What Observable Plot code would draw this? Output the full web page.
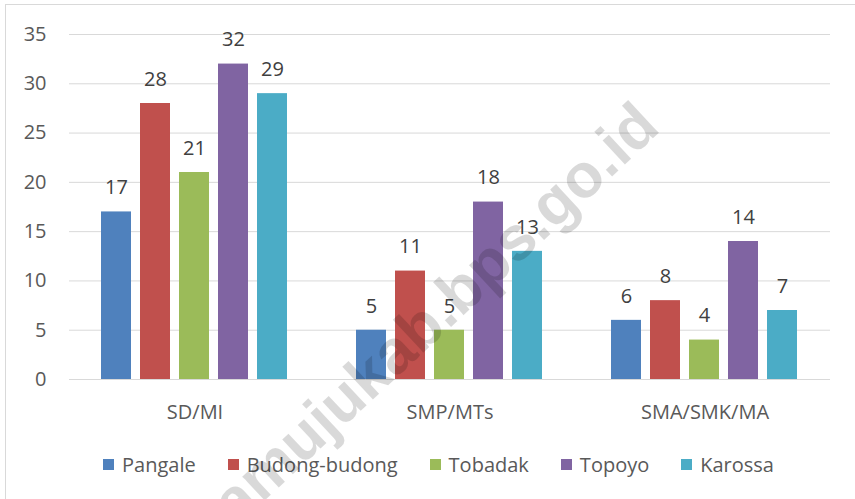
<!DOCTYPE html>
<html>
<head>
<meta charset="utf-8">
<script src="https://cdn.jsdelivr.net/npm/d3@7"></script>
<script src="https://cdn.jsdelivr.net/npm/@observablehq/plot@0.6"></script>
<style>
  html, body { margin: 0; padding: 0; background: #fff; width: 855px; height: 499px; overflow: hidden; }
  #wrap { position: relative; width: 855px; height: 499px; }
  #border { position: absolute; left: 5px; top: 4px; width: 900px; height: 900px; border-top: 1px solid #d9d9d9; border-left: 1px solid #d9d9d9; }
  .layer { position: absolute; left: 0; top: 0; }
  #legend { position: absolute; left: 103px; top: 450px; height: 28px; display: flex; align-items: center;
            font-family: "Open Sans", sans-serif; font-size: 20px; color: #595959; white-space: nowrap; }
  .item { display: flex; align-items: center; margin-right: 32px; }
  .sw { width: 11px; height: 11px; margin-right: 8px; }
  #wm { position: absolute; left: 0; top: 0; pointer-events: none; }
</style>
</head>
<body>
<div id="wrap">
  <div id="border"></div>
  <div id="grid" class="layer"></div>
  <div id="chart" class="layer"></div>
  <div id="legend"></div>
  <svg id="wm" width="855" height="499">
    <text x="662" y="130" text-anchor="end" transform="rotate(-43 662 130)" font-family="Liberation Sans" font-weight="bold" font-size="62" fill="#000" fill-opacity="0.15">mamujukab.bps.go.id</text>
  </svg>
</div>
<script>
const categories = ["SD/MI", "SMP/MTs", "SMA/SMK/MA"];
const series = ["Pangale", "Budong-budong", "Tobadak", "Topoyo", "Karossa"];
const pangale = [17, 5, 6];
const budongBudong = [28, 11, 8];
const tobadak = [21, 5, 4];
const topoyo = [32, 18, 14];
const karossa = [29, 13, 7];
const colors = ["#4F81BD", "#C0504D", "#9BBB59", "#8064A2", "#4BACC6"];
const yTicks = [0, 5, 10, 15, 20, 25, 30, 35];

const seriesValues = [pangale, budongBudong, tobadak, topoyo, karossa];
const data = [];
categories.forEach((c, i) => {
  series.forEach((s, j) => {
    data.push({category: c, series: s, value: seriesValues[j][i]});
  });
});

const common = {
  width: 855,
  height: 440,
  marginLeft: 69,
  marginRight: 25,
  marginTop: 34,
  marginBottom: 61,
  style: {fontFamily: "Open Sans, sans-serif", fontSize: "20px", color: "#595959", background: "transparent", overflow: "visible"},
  y: {domain: [0, 35], axis: null}
};

// Grid and y labels layer (full width, not faceted)
const grid = Plot.plot({
  ...common,
  x: {domain: categories, axis: null},
  marks: [
    Plot.ruleY(yTicks, {y: d => d, stroke: "#d9d9d9", strokeWidth: 1}),
    Plot.text(yTicks, {y: d => d, text: d => String(d), frameAnchor: "left", dx: -23, textAnchor: "end", fill: "#595959"})
  ]
});
document.getElementById("grid").appendChild(grid);

// Bars layer (faceted by category)
const chart = Plot.plot({
  ...common,
  fx: {domain: categories, paddingInner: 0.26, paddingOuter: 0.12, label: null},
  x: {domain: series, paddingInner: 0.218, paddingOuter: 0, axis: null},
  color: {domain: series, range: colors},
  marks: [
    Plot.barY(data, {fx: "category", x: "series", y: "value", fill: "series"}),
    Plot.text(data, {fx: "category", x: "series", y: "value", text: d => String(d.value), dy: -24, fill: "#404040"}),
    Plot.axisFx({anchor: "bottom", tickSize: 0, tickPadding: 25, label: null, fill: "#595959"})
  ]
});
document.getElementById("chart").appendChild(chart);

const legend = document.getElementById("legend");
series.forEach((s, i) => {
  const item = document.createElement("div");
  item.className = "item";
  const sw = document.createElement("div");
  sw.className = "sw";
  sw.style.background = colors[i];
  const label = document.createElement("span");
  label.textContent = s;
  item.appendChild(sw);
  item.appendChild(label);
  legend.appendChild(item);
});
</script>
</body>
</html>
